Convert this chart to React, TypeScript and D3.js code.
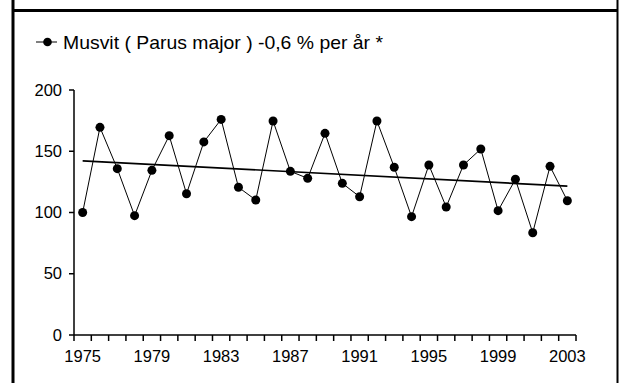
import React from "react";
import * as d3 from "d3";

const years: number[] = [
  1975, 1976, 1977, 1978, 1979, 1980, 1981, 1982, 1983, 1984, 1985, 1986, 1987, 1988, 1989,
  1990, 1991, 1992, 1993, 1994, 1995, 1996, 1997, 1998, 1999, 2000, 2001, 2002, 2003,
];
const values: number[] = [
  100, 169.5, 135.8, 97.4, 134.4, 162.7, 115.3, 157.6, 176, 120.6, 110.2, 174.7, 133.6, 127.9, 164.6,
  123.8, 112.9, 174.7, 136.9, 96.6, 138.8, 104.5, 138.8, 151.8, 101.5, 127.1, 83.5, 137.7, 109.6,
];
const trendYears: number[] = [1975, 2003];
const trendValues: number[] = [142.2, 121.5];
const yTicks: number[] = [0, 50, 100, 150, 200];
const xLabelYears: number[] = [1975, 1979, 1983, 1987, 1991, 1995, 1999, 2003];
const legendLabel = "Musvit ( Parus major ) -0,6 % per år *";

const W = 626;
const H = 383;
const left = 74;
const right = 576;
const top = 90;
const bottom = 335;
const FONT = "Liberation Sans, Arial, sans-serif";

export default function App() {
  const x = d3
    .scaleBand<number>()
    .domain(years)
    .range([left, right])
    .paddingInner(0)
    .paddingOuter(0);
  const cx = (yr: number) => (x(yr) as number) + x.bandwidth() / 2;
  const y = d3.scaleLinear().domain([0, 200]).range([bottom, top]);

  const line = d3
    .line<number>()
    .x((_, i) => cx(years[i]))
    .y((v) => y(v));
  const trendLine = d3
    .line<number>()
    .x((_, i) => cx(trendYears[i]))
    .y((v) => y(v));

  const xTickPositions = years.map((yr) => x(yr) as number).concat([right]);

  return (
    <svg
      width={W}
      height={H}
      style={{ position: "absolute", left: 0, top: 0, background: "#fff" }}
      fontFamily={FONT}
    >
      <rect x={0} y={0} width={W} height={H} fill="#fff" />
      {/* frame */}
      <line x1={13} y1={0} x2={13} y2={H} stroke="#000" strokeWidth={3} />
      <line x1={617.5} y1={0} x2={617.5} y2={H} stroke="#000" strokeWidth={2} />
      <line x1={13} y1={10.5} x2={618} y2={10.5} stroke="#000" strokeWidth={3} />

      {/* legend */}
      <line x1={36} y1={42} x2={57} y2={42} stroke="#000" strokeWidth={1} />
      <circle cx={47.5} cy={42} r={4.3} fill="#000" />
      <text
        x={63}
        y={48.5}
        fontSize={19}
        textLength={320}
        lengthAdjust="spacingAndGlyphs"
        fill="#000"
      >
        {legendLabel}
      </text>

      {/* y axis */}
      <line x1={left} y1={top} x2={left} y2={bottom} stroke="#000" strokeWidth={1.5} />
      {yTicks.map((t) => (
        <g key={t}>
          <line x1={left - 5} y1={y(t)} x2={left} y2={y(t)} stroke="#000" strokeWidth={1.5} />
          <text x={62} y={y(t) + 5.5} fontSize={16.5} textAnchor="end" fill="#000">
            {t}
          </text>
        </g>
      ))}

      {/* x axis */}
      <line x1={left} y1={bottom} x2={right} y2={bottom} stroke="#000" strokeWidth={1.5} />
      {xTickPositions.map((p, i) => (
        <line key={i} x1={p} y1={bottom} x2={p} y2={bottom + 6} stroke="#000" strokeWidth={1.5} />
      ))}
      {xLabelYears.map((yr) => (
        <text key={yr} x={cx(yr)} y={362} fontSize={16.5} textAnchor="middle" fill="#000">
          {yr}
        </text>
      ))}

      {/* trend */}
      <path d={trendLine(trendValues) || ""} fill="none" stroke="#000" strokeWidth={1.7} />

      {/* series */}
      <path d={line(values) || ""} fill="none" stroke="#000" strokeWidth={1} />
      {values.map((v, i) => (
        <circle key={i} cx={cx(years[i])} cy={y(v)} r={4.5} fill="#000" />
      ))}
    </svg>
  );
}
